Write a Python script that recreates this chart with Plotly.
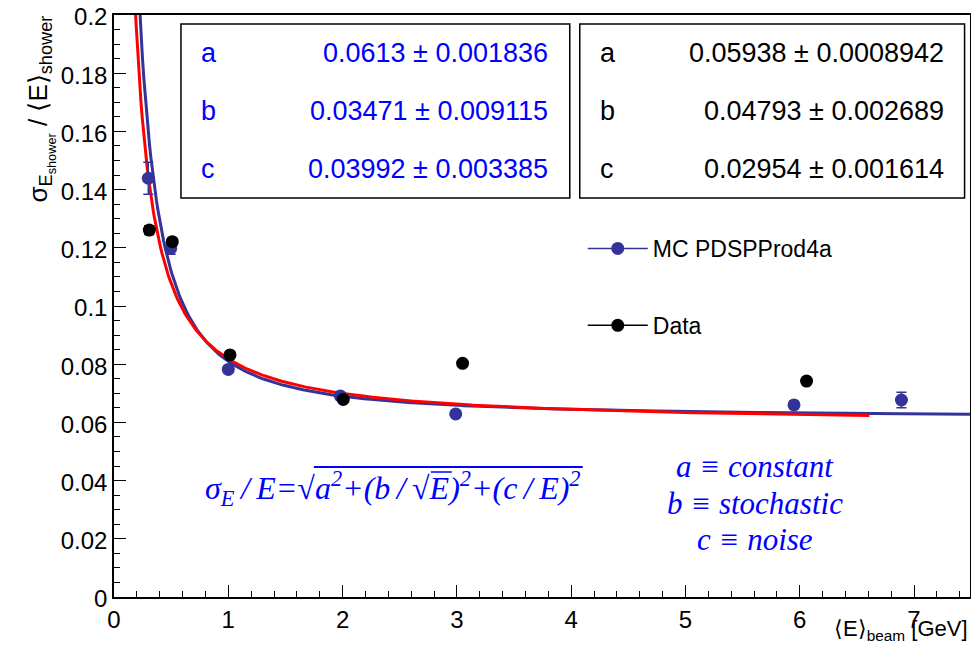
import numpy as np
import plotly.graph_objects as go

# ---- data ----
mc_E = [0.30, 0.496, 1.00, 1.98, 2.99, 5.95, 6.89]
mc_res = [0.1439, 0.1198, 0.0782, 0.0691, 0.0629, 0.0660, 0.0677]
mc_err = [0.0055, 0.0020, 0.0012, 0.0010, 0.0010, 0.0012, 0.0027]

data_E = [0.309, 0.51, 1.015, 2.006, 3.05, 6.06]
data_res = [0.1261, 0.1221, 0.0832, 0.0679, 0.0803, 0.0742]
data_err = [0.0015, 0.0012, 0.0008, 0.0006, 0.0006, 0.0008]

# fit parameters (value, error)
mc_fit = {"a": (0.0613, 0.001836), "b": (0.03471, 0.009115), "c": (0.03992, 0.003385)}
data_fit = {"a": (0.05938, 0.0008942), "b": (0.04793, 0.002689), "c": (0.02954, 0.001614)}
mc_fit_range = (0.15, 7.53)
data_fit_range = (0.15, 6.61)

x_range = [0, 7.49]
y_range = [0, 0.2000001]

MC_COL = "#33339a"
# page is offset by the 8px body margin; plot area in page pixels
OFF = 8
PX_PER_UNIT = 861 / 7.53
PX0, PY0, PY1 = 114, 15, 597
PX1 = PX0 + x_range[1] * PX_PER_UNIT
W, H = 979 - OFF, 652 - 2 * OFF
L, T = PX0 - OFF, PY0 - OFF
R = W - (PX1 - OFF)
B = H - (PY1 - OFF)


def res_func(E, p):
    a, b, c = p["a"][0], p["b"][0], p["c"][0]
    return np.sqrt(a ** 2 + (b / np.sqrt(E)) ** 2 + (c / E) ** 2)


def px(xp):
    return (xp - PX0) / (PX1 - PX0)


def py(yp):
    return (PY1 - yp) / (PY1 - PY0)


fig = go.Figure()

Em = np.linspace(*mc_fit_range, 600)
fig.add_trace(go.Scatter(x=Em, y=res_func(Em, mc_fit), mode="lines",
                         line=dict(color=MC_COL, width=3), showlegend=False, hoverinfo="skip"))
Ed = np.linspace(*data_fit_range, 600)
fig.add_trace(go.Scatter(x=Ed, y=res_func(Ed, data_fit), mode="lines",
                         line=dict(color="#ff0000", width=3), showlegend=False, hoverinfo="skip"))

fig.add_trace(go.Scatter(x=mc_E, y=mc_res, mode="markers", name="MC PDSPProd4a",
                         marker=dict(color=MC_COL, size=13),
                         error_y=dict(type="data", array=mc_err, color=MC_COL, thickness=1.5, width=5),
                         showlegend=False))
fig.add_trace(go.Scatter(x=data_E, y=data_res, mode="markers", name="Data",
                         marker=dict(color="black", size=13),
                         error_y=dict(type="data", array=data_err, color="black", thickness=1.5, width=5),
                         showlegend=False))
# legend entries (line + marker style, as in the reference legend)
fig.add_trace(go.Scatter(x=[None], y=[None], mode="lines+markers", name="MC PDSPProd4a",
                         marker=dict(color=MC_COL, size=13), line=dict(color=MC_COL, width=1.5),
                         legendgroup="mc"))
fig.add_trace(go.Scatter(x=[None], y=[None], mode="lines+markers", name="Data",
                         marker=dict(color="black", size=13), line=dict(color="black", width=1.5),
                         legendgroup="data"))

shapes = []
annotations = []


def add_box(x0, x1, params, color, lab_x, val_x):
    shapes.append(dict(type="rect", xref="paper", yref="paper",
                       x0=px(x0), x1=px(x1), y0=py(198), y1=py(24),
                       line=dict(color="black", width=1.5), fillcolor="white", layer="above"))
    for (k, (v, e)), yy in zip(params.items(), [53, 111, 169]):
        annotations.append(dict(xref="paper", yref="paper", x=px(lab_x), y=py(yy),
                                text=k, showarrow=False, xanchor="left", yanchor="middle",
                                font=dict(family="Liberation Sans", size=27, color=color)))
        annotations.append(dict(xref="paper", yref="paper", x=px(val_x), y=py(yy),
                                text=f"{v:g} \u00b1 {e:g}", showarrow=False, xanchor="right",
                                yanchor="middle",
                                font=dict(family="Liberation Sans", size=27, color=color)))


add_box(181, 570, mc_fit, "#0000ff", 199, 550)
add_box(580, 965, data_fit, "black", 598, 946)

BLUE = "#0000ff"
serif = dict(family="Liberation Serif", size=32, color=BLUE)
th = "\u2009"
formula = ("<i>σ<sub>E</sub>" + th + "/" + th + "E=√a<sup>2</sup>+(b" + th + "/" + th + "√E)<sup>2</sup>"
           "+(c" + th + "/" + th + "E)<sup>2</sup></i>")
annotations.append(dict(xref="paper", yref="paper", x=px(393), y=py(488), text=formula,
                        showarrow=False, xanchor="center", yanchor="middle", font=serif))
# square-root bars
shapes.append(dict(type="line", xref="paper", yref="paper", x0=px(314), x1=px(583),
                   y0=py(467), y1=py(467), line=dict(color=BLUE, width=2)))
shapes.append(dict(type="line", xref="paper", yref="paper", x0=px(431), x1=px(452),
                   y0=py(472), y1=py(472), line=dict(color=BLUE, width=1.5)))

for txt, yy in [("a ≡ constant", 466), ("b ≡ stochastic", 503), ("c ≡ noise", 539)]:
    annotations.append(dict(xref="paper", yref="paper", x=px(755), y=py(yy), text=f"<i>{txt}</i>",
                            showarrow=False, xanchor="center", yanchor="middle",
                            font=dict(family="Liberation Serif", size=31, color=BLUE)))

# axis titles
annotations.append(dict(xref="paper", yref="paper", x=px(970), y=py(630),
                        text="⟨E⟩<sub>beam</sub> [GeV]", showarrow=False, xanchor="right",
                        yanchor="middle", font=dict(family="Liberation Sans", size=22, color="black")))
annotations.append(dict(xref="paper", yref="paper", x=px(40), y=py(14),
                        text="σ<sub>E<sub>shower</sub></sub> / ⟨E⟩<sub>shower</sub>", showarrow=False,
                        textangle=-90, xanchor="center", yanchor="top",
                        font=dict(family="Liberation Sans", size=26, color="black")))

axis_common = dict(showline=True, linecolor="black", linewidth=1.5, mirror=True, ticks="inside",
                   tickcolor="black", showgrid=False, zeroline=False, ticklabeloverflow="allow",
                   automargin=False,
                   tickfont=dict(family="Liberation Sans", size=24, color="black"))

fig.update_layout(
    width=W, height=H, margin=dict(l=L, r=R, t=T, b=B, autoexpand=False),
    plot_bgcolor="white", paper_bgcolor="white",
    xaxis=dict(range=x_range, dtick=1, ticklen=12, tickwidth=1.2,
               minor=dict(dtick=0.2, ticks="inside", ticklen=6, tickcolor="black", tickwidth=1.2),
               **axis_common),
    yaxis=dict(range=y_range, dtick=0.02, ticklen=12, tickwidth=1.2, tickformat="~g",
               ticklabelshift=2,
               minor=dict(dtick=0.005, ticks="inside", ticklen=6, tickcolor="black", tickwidth=1.2),
               **axis_common),
    legend=dict(x=px(583), y=py(227), xanchor="left", yanchor="top", bgcolor="rgba(0,0,0,0)",
                font=dict(family="Liberation Sans", size=23, color="black"),
                traceorder="grouped", tracegroupgap=44, itemwidth=60),
    shapes=shapes, annotations=annotations,
)

fig.write_html("out.html")
